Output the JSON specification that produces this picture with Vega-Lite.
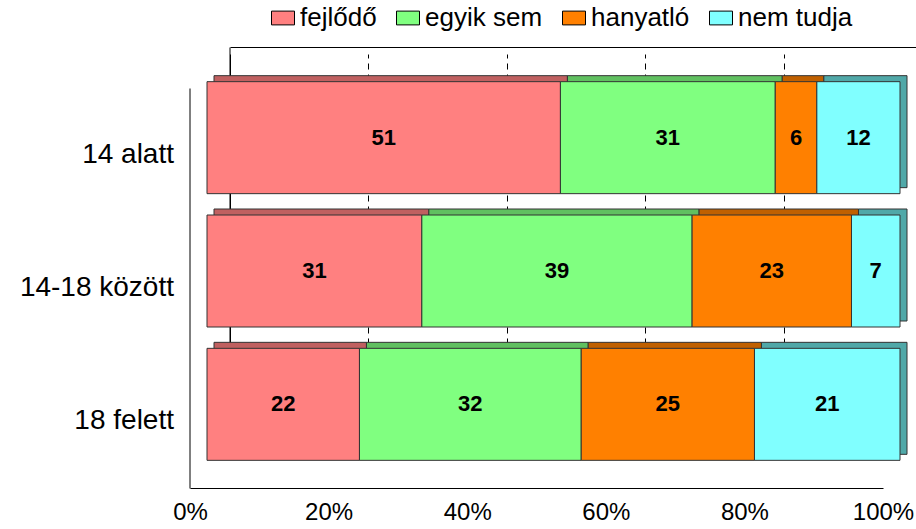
{
  "$schema": "https://vega.github.io/schema/vega-lite/v6.json",
  "width": 693,
  "height": 400,
  "autosize": "none",
  "padding": {"left": 207, "top": 71, "right": 16, "bottom": 58},
  "background": "white",
  "config": {"view": {"stroke": null}, "font": "Liberation Sans"},
  "data": {
    "values": [
      {"group": "14 alatt", "cat": "fejlődő", "value": 51},
      {"group": "14 alatt", "cat": "egyik sem", "value": 31},
      {"group": "14 alatt", "cat": "hanyatló", "value": 6},
      {"group": "14 alatt", "cat": "nem tudja", "value": 12},
      {"group": "14-18 között", "cat": "fejlődő", "value": 31},
      {"group": "14-18 között", "cat": "egyik sem", "value": 39},
      {"group": "14-18 között", "cat": "hanyatló", "value": 23},
      {"group": "14-18 között", "cat": "nem tudja", "value": 7},
      {"group": "18 felett", "cat": "fejlődő", "value": 22},
      {"group": "18 felett", "cat": "egyik sem", "value": 32},
      {"group": "18 felett", "cat": "hanyatló", "value": 25},
      {"group": "18 felett", "cat": "nem tudja", "value": 21}
    ]
  },
  "transform": [
    {"calculate": "indexof(['fejlődő','egyik sem','hanyatló','nem tudja'], datum.cat)", "as": "ord"},
    {"stack": "value", "groupby": ["group"], "sort": [{"field": "ord", "order": "ascending"}], "as": ["x0", "x1"]},
    {"calculate": "(datum.x0 + datum.x1) / 2", "as": "mid"}
  ],
  "layer": [
    {
      "mark": {"type": "bar", "xOffset": 7, "x2Offset": 7, "yOffset": -6, "y2Offset": -6, "stroke": "#333333", "strokeWidth": 1},
      "encoding": {
        "y": {
          "field": "group", "type": "nominal",
          "sort": ["14 alatt", "14-18 között", "18 felett"],
          "scale": {"paddingInner": 0.16, "paddingOuter": 0.08},
          "axis": {"orient": "left", "title": null, "labels": false, "ticks": false, "grid": false, "domain": true, "domainColor": "black", "translate": -23.5, "offset": -46.5}
        },
        "x": {
          "field": "x0", "type": "quantitative",
          "scale": {"domain": [0, 100]},
          "axis": {"orient": "top", "title": null, "labels": false, "ticks": false, "grid": false, "domainColor": "black", "translate": 23.5, "offset": 47}
        },
        "x2": {"field": "x1"},
        "color": {
          "field": "cat", "type": "nominal",
          "sort": ["fejlődő", "egyik sem", "hanyatló", "nem tudja"],
          "scale": {"domain": ["fejlődő", "egyik sem", "hanyatló", "nem tudja"], "range": ["#c06060", "#60c060", "#c06000", "#50a8a8"]},
          "legend": null
        }
      }
    },
    {
      "mark": {"type": "bar", "stroke": "#333333", "strokeWidth": 1},
      "encoding": {
        "y": {
          "field": "group", "type": "nominal",
          "sort": ["14 alatt", "14-18 között", "18 felett"],
          "axis": {"orient": "left", "title": null, "ticks": false, "grid": false, "domainColor": "black", "translate": 17.5, "offset": 34.5, "labelFontSize": 28, "labelColor": "black", "labelPadding": 16, "labelFont": "Liberation Sans"}
        },
        "x": {
          "field": "x0", "type": "quantitative",
          "scale": {"domain": [0, 100]},
          "axis": {
            "orient": "bottom", "title": null,
            "values": [0, 20, 40, 60, 80, 100],
            "labelExpr": "datum.value + '%'",
            "ticks": false, "domainColor": "black",
            "translate": -16.5, "offset": 34,
            "grid": true, "gridColor": "black", "gridOpacity": 1, "gridWidth": 1,
            "gridDash": {"condition": {"test": "datum.value === 0", "value": []}, "value": [6, 5]},
            "tickOffset": 39.5, "labelOffset": -39.5,
            "labelFontSize": 24, "labelColor": "black", "labelPadding": 12, "labelFont": "Liberation Sans",
            "labelFlush": false
          }
        },
        "x2": {"field": "x1"},
        "color": {
          "field": "cat", "type": "nominal",
          "sort": ["fejlődő", "egyik sem", "hanyatló", "nem tudja"],
          "scale": {"domain": ["fejlődő", "egyik sem", "hanyatló", "nem tudja"], "range": ["#ff8080", "#80ff80", "#ff8000", "#80ffff"]},
          "legend": {
            "orient": "none", "legendX": 63, "legendY": -66,
            "direction": "horizontal", "columns": 4, "title": null, "padding": 0,
            "symbolType": "M-1,-0.6H1V0.6H-1Z", "symbolSize": 529,
            "symbolStrokeColor": "black", "symbolStrokeWidth": 1, "symbolOpacity": 1,
            "labelFontSize": 26, "labelColor": "black", "labelOffset": 4, "labelFont": "Liberation Sans",
            "columnPadding": 17
          }
        }
      }
    },
    {
      "mark": {"type": "text", "fontSize": 22, "fontWeight": "bold", "color": "black", "font": "Liberation Sans"},
      "encoding": {
        "y": {"field": "group", "type": "nominal", "sort": ["14 alatt", "14-18 között", "18 felett"], "axis": null},
        "x": {"field": "mid", "type": "quantitative", "scale": {"domain": [0, 100]}, "axis": null},
        "text": {"field": "value", "type": "quantitative"}
      }
    }
  ],
  "resolve": {"scale": {"color": "independent"}, "axis": {"x": "independent", "y": "independent"}}
}
